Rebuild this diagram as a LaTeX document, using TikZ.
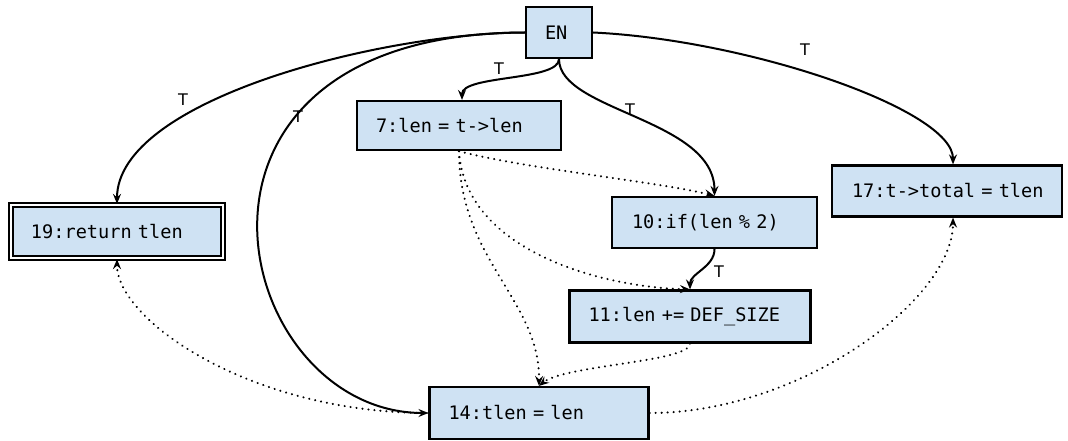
\documentclass[tikz,border=0pt]{standalone}
\usepackage{fontspec}
\usetikzlibrary{arrows.meta}
\newfontfamily\codefont{DejaVu Sans Mono}
\newfontfamily\lblfont{DejaVu Sans}
\definecolor{boxblue}{RGB}{207,226,243}
% monospaced code text: every space as wide as one character
\newcommand\codesetup{\codefont\fontsize{18.6pt}{22pt}\selectfont
  \spaceskip=\fontcharwd\font`0\relax\xspaceskip=\spaceskip}
\begin{document}
\begin{tikzpicture}[x=1pt,y=-1pt,
  stmt/.style={draw=black, line width=2.2pt, fill=boxblue, inner sep=0pt,
    align=left, font=\codesetup},
  exitstmt/.style={stmt, line width=2.3pt, double=white, double distance=1.4pt},
  ctrl/.style={line width=2pt, -{Stealth[length=10pt,width=8pt,inset=3.5pt]}},
  dep/.style={line width=2.3pt, line cap=round, dash pattern=on 0.01pt off 6pt,
    -{Stealth[length=10pt,width=8pt,inset=3.5pt,line cap=butt]}},
  lbl/.style={inner sep=0pt, font=\lblfont\fontsize{16pt}{19pt}\selectfont}]
\useasboundingbox (0,0) rectangle (1068,441);

% statement boxes
\node[stmt, text width=66pt,  minimum height=51pt] (en)  at (559,32.5)  {\hspace*{19pt}EN};
\node[stmt, text width=204pt, minimum height=49pt] (n7)  at (459,125.5) {\hspace*{19pt}7:len = t->len};
\node[stmt, text width=205pt, minimum height=51pt] (n10) at (714.5,222.5) {\hspace*{20pt}10:if(len \% 2)};
\node[stmt, text width=241pt, minimum height=52pt] (n11) at (690,316.5) {\hspace*{19pt}11:len += DEF\symbol{95}SIZE};
\node[stmt, text width=219pt, minimum height=52pt] (n14) at (539,413)   {\hspace*{19pt}14:tlen = len};
\node[stmt, text width=230pt, minimum height=51pt] (n17) at (947,191)   {\hspace*{20pt}17:t->total = tlen};
\node[exitstmt, text width=212pt, minimum height=53pt] (n19) at (117,231.5) {\hspace*{20pt}19:return tlen};

% control-flow edges
\draw[ctrl] (en.west) .. controls (380,33) and (117,100) .. (n19.north);
\draw[ctrl] (en.west) .. controls (140,33) and (230,413) .. (n14.west);
\draw[ctrl] (en.south) .. controls +(0,22) and +(0,-25) .. (n7.north -| 462,0);
\draw[ctrl] (en.south) .. controls +(0,52) and +(0,-77) .. (n10.north);
\draw[ctrl] (en.east) .. controls (750,40) and (953,110) .. (n17.north -| 953,0);
\draw[ctrl] (n10.south) .. controls +(0,18) and +(0,-16) .. (n11.north);

% edge labels
\node[lbl] (t19) at (183,100) {T};
\node[lbl] (t14) at (298,117) {T};
\node[lbl] (t7)  at (499,69)  {T};
\node[lbl] (t10) at (630,110) {T};
\node[lbl] (t17) at (805,50)  {T};
\node[lbl] (t11) at (719,272) {T};

% data-dependence edges
\draw[dep] (n7.south) .. controls (520,168) and (660,182) .. (n10.north);
\draw[dep] (n7.south) .. controls (465,250) and (600,287) .. (n11.north);
\draw[dep] (n7.south) .. controls (459,260) and (540,300) .. (n14.north);
\draw[dep] (n11.south) .. controls (690,362) and (565,365) .. (n14.north);
\draw[dep] (n14.west) .. controls (250,413) and (117,320) .. (n19.south);
\draw[dep] (n14.east) .. controls (800,413) and (953,300) .. (n17.south -| 953,0);
\end{tikzpicture}
\end{document}
